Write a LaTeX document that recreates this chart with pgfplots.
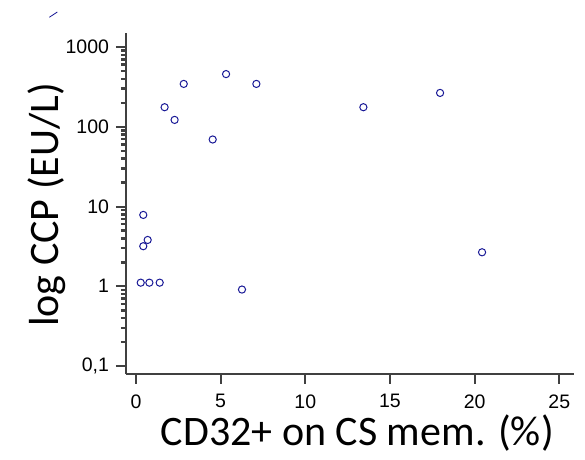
\documentclass[border=0pt]{standalone}
\usepackage{fontspec}
\setmainfont{Liberation Sans}
\newfontfamily\labelfont{Carlito}
\usepackage{pgfplots}
\pgfplotsset{compat=1.18}
\definecolor{ptblue}{RGB}{25,25,150}
\definecolor{axgray}{RGB}{64,64,64}

\begin{document}
\begin{tikzpicture}[x=1pt,y=1pt]
\path[use as bounding box] (0,0) rectangle (585,-459);
% stray stroke in the top left corner of the original
\draw[ptblue, line width=0.8pt] (49.3,-17.3) -- (57.3,-12);
\begin{axis}[
  at={(126pt,-374pt)}, anchor=south west,
  scale only axis, width=448pt, height=341pt,
  xmin=-0.59, xmax=25.87,
  ymode=log, ymin=0.0794, ymax=1500,
  axis lines=left,
  axis line style={-, axgray, line width=2pt},
  tick align=outside,
  major tick length=10pt,
  minor tick length=5pt,
  major tick style={axgray, line width=2pt},
  minor tick style={axgray, line width=2.5pt},
  xtick={0,5,10,15,20,25},
  xticklabels={0,5,10,15,20,25},
  ytick={0.1,1,10,100,1000},
  yticklabels={{0,1},1,10,100,1000},
  minor ytick={0.2,0.3,0.4,0.5,0.6,0.7,0.8,0.9,2,3,4,5,6,7,8,9,20,30,40,50,60,70,80,90,200,300,400,500,600,700,800,900},
  xticklabel style={font=\fontsize{19.5}{21}\selectfont, yshift=-7pt},
  yticklabel style={font=\fontsize{19.5}{21}\selectfont, xshift=-3.5pt},
  xlabel={CD32+ on CS mem. (\%)},
  ylabel={log CCP (EU/L)},
  xlabel style={font=\labelfont\fontsize{42}{48}\selectfont,
    at={(axis description cs:0.5165,-0.211)}, anchor=base},
  ylabel style={font=\labelfont\fontsize{42}{48}\selectfont,
    at={(axis description cs:-0.1496,0.4956)}, anchor=base},
]
\addplot[only marks, mark=o, mark size=3.6pt, ptblue, line width=1pt] coordinates {
  (0.28,1.11) (0.79,1.11) (1.40,1.11)
  (0.43,7.85) (0.69,3.81) (0.43,3.18)
  (6.26,0.91)
  (1.69,176) (2.28,122) (2.82,345)
  (4.53,69.3) (5.32,458) (7.11,345)
  (13.43,176) (17.96,266) (20.44,2.67)
};
\end{axis}
\end{tikzpicture}
\end{document}
